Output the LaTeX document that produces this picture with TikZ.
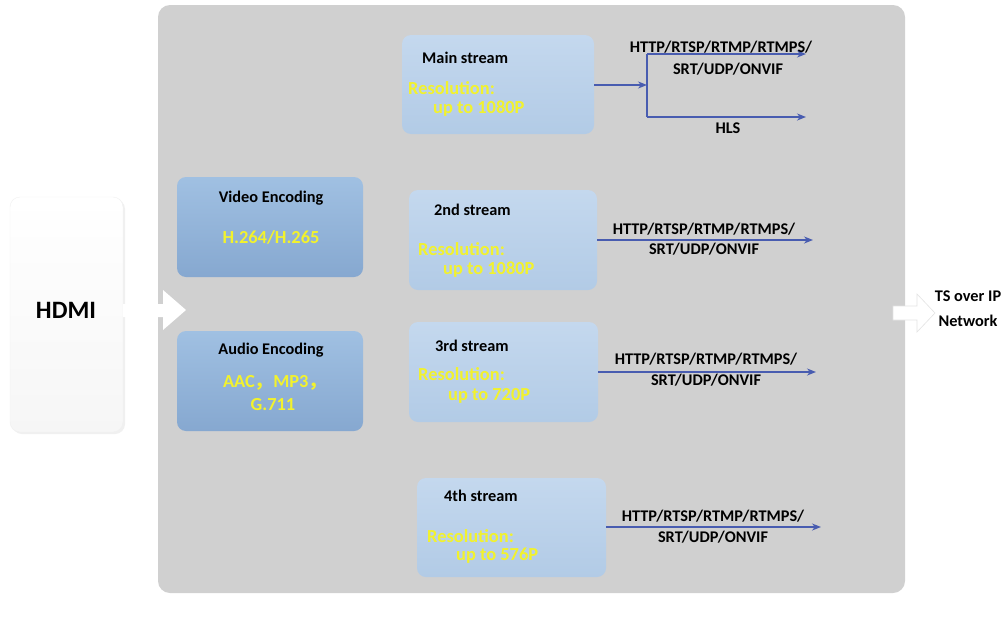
\documentclass[tikz,border=0pt]{standalone}
\usepackage{fontspec}
\setmainfont{Carlito}
\newfontfamily\cjk{Noto Sans CJK SC}
\usetikzlibrary{arrows.meta}
\definecolor{panelgray}{RGB}{208,208,208}
\definecolor{enctop}{RGB}{160,192,226}
\definecolor{encbot}{RGB}{134,168,208}
\definecolor{strtop}{RGB}{196,216,238}
\definecolor{strbot}{RGB}{178,203,230}
\definecolor{yel}{RGB}{242,242,45}
\definecolor{arrblue}{RGB}{72,92,176}
\tikzset{
  panelbox/.style={fill=panelgray, rounded corners=12pt, inner sep=0pt},
  encbox/.style={rounded corners=9pt, top color=enctop, bottom color=encbot, minimum width=186pt, minimum height=100pt, inner sep=0pt},
  strbox/.style={rounded corners=9pt, top color=strtop, bottom color=strbot, minimum width=190pt, minimum height=100pt, inner sep=0pt},
  title/.style={font=\bfseries\fontsize{16.3}{18}\selectfont, text=black, inner sep=0pt},
  ytext/.style={font=\bfseries\fontsize{18.4}{20}\selectfont, text=yel, inner sep=0pt},
  proto/.style={font=\bfseries\fontsize{16.3}{18}\selectfont, text=black, inner sep=0pt},
  arr/.style={draw=arrblue, line width=1.6pt, -{Stealth[length=9pt,width=7pt]}},
  ln/.style={draw=arrblue, line width=1.6pt},
  fat/.style={fill=white, draw=gray!22, line width=0.6pt},
}
\begin{document}
\begin{tikzpicture}[x=1pt,y=-1pt]
\useasboundingbox (0,0) rectangle (1004,637);
\fill[white] (0,0) rectangle (1004,637);
% main panel
\node[panelbox, minimum width=747pt, minimum height=588pt] (panel) at (531.5,299) {};
% HDMI
\fill[gray!12, rounded corners=10pt] (12,199) rectangle (125,434);
\node[rounded corners=10pt, top color=white, bottom color=gray!7, draw=gray!12, minimum width=113pt, minimum height=235pt, inner sep=0pt] (hdmi) at (66.5,314.5) {};
\node[font=\bfseries\fontsize{25}{28}\selectfont, inner sep=0pt] (hdmit) at (66,310) {HDMI};
% input fat arrow
\coordinate (tipin) at (186,310);
\fill[fat, draw=none] (hdmi.east |- 0,304) -- (163,304) -- (163,290) -- (tipin) -- (163,330) -- (163,317) -- (hdmi.east |- 0,317) -- cycle;
% encoding boxes
\node[encbox] (venc) at (270,227) {};
\node[title] (venct) at (271,198) {Video Encoding};
\node[ytext] (vency) at (271,237) {H.264/H.265};
\node[encbox] (aenc) at (270,381) {};
\node[title] (aenct) at (271,350) {Audio Encoding};
\node[ytext] (aency1) at (275,383) {AAC{\cjk ，}MP3{\cjk ，}};
\node[ytext] (aency2) at (273,405) {G.711};
% main stream
\node[strbox, minimum width=192pt, minimum height=99pt] (s1) at (498,84.5) {};
\node[title, anchor=west] (s1t) at (422,58) {Main stream};
\node[ytext, anchor=west] (s1r) at (408,88) {Resolution:};
\node[ytext, anchor=west] (s1u) at (433,109) {up to 1080P};
\coordinate (split) at (647,85);
\coordinate (splt) at (647,54);
\coordinate (splb) at (647,117);
\coordinate (e1a) at (806,54);
\coordinate (e1b) at (806,117);
\draw[arr] (s1.east |- split) -- (split);
\draw[ln] (splt) -- (splb);
\draw[arr] (splt) -- (e1a);
\draw[arr] (splb) -- (e1b);
\node[proto] (p1a) at (721,47) {HTTP/RTSP/RTMP/RTMPS/};
\node[proto] (p1b) at (728,69) {SRT/UDP/ONVIF};
\node[proto] (p1c) at (728,128) {HLS};
% 2nd stream
\node[strbox, minimum width=188pt] (s2) at (503,240) {};
\node[title, anchor=west] (s2t) at (434,210) {2nd stream};
\node[ytext, anchor=west] (s2r) at (418,249) {Resolution:};
\node[ytext, anchor=west] (s2u) at (443,270) {up to 1080P};
\coordinate (e2) at (813,240);
\draw[arr] (s2.east |- e2) -- (e2);
\node[proto] (p2a) at (704,229) {HTTP/RTSP/RTMP/RTMPS/};
\node[proto] (p2b) at (704,249) {SRT/UDP/ONVIF};
% 3rd stream
\node[strbox, minimum width=189pt] (s3) at (503.5,372) {};
\node[title, anchor=west] (s3t) at (435,346) {3rd stream};
\node[ytext, anchor=west] (s3r) at (418,374) {Resolution:};
\node[ytext, anchor=west] (s3u) at (448,396) {up to 720P};
\coordinate (e3) at (816,372);
\draw[arr] (s3.east |- e3) -- (e3);
\node[proto] (p3a) at (706,359) {HTTP/RTSP/RTMP/RTMPS/};
\node[proto] (p3b) at (706,380) {SRT/UDP/ONVIF};
% 4th stream
\node[strbox, minimum width=189pt, minimum height=99pt] (s4) at (511.5,527.5) {};
\node[title, anchor=west] (s4t) at (444,496) {4th stream};
\node[ytext, anchor=west] (s4r) at (427,536) {Resolution:};
\node[ytext, anchor=west] (s4u) at (456,556) {up to 576P};
\coordinate (e4) at (821,527);
\draw[arr] (s4.east |- e4) -- (e4);
\node[proto] (p4a) at (713,516) {HTTP/RTSP/RTMP/RTMPS/};
\node[proto] (p4b) at (713,537) {SRT/UDP/ONVIF};
% output fat arrow
\coordinate (tipout) at (935,313);
\fill[fat] (893,306) -- (917,306) -- (917,294) -- (tipout) -- (917,332) -- (917,320) -- (893,320) -- cycle;
\node[proto, align=center, font=\bfseries\fontsize{16.3}{25}\selectfont] (out) at (968,309) {TS over IP\\Network};
\end{tikzpicture}
\end{document}
